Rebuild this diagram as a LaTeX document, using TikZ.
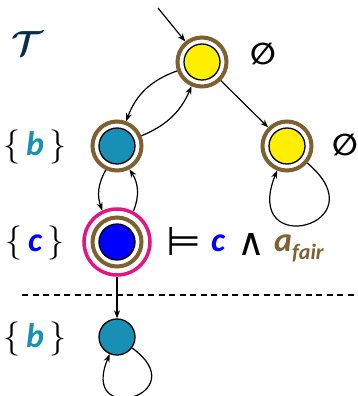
\documentclass[tikz,border=0pt]{standalone}
\usepackage{amsmath,amssymb}
\usepackage{fontspec}
\newfontfamily\carl{Carlito}
\newfontfamily\dejav{DejaVu Sans}
\usetikzlibrary{arrows.meta}
\definecolor{ringbrown}{RGB}{127,96,48}
\definecolor{yel}{RGB}{255,238,0}
\definecolor{tealb}{RGB}{24,143,181}
\definecolor{blu}{RGB}{0,0,255}
\definecolor{pinkr}{RGB}{230,20,130}
\definecolor{navy}{RGB}{10,45,75}
\newcommand\bigmath[2]{\scalebox{#1}{\fontsize{24.88}{28}\selectfont$#2$}}
\begin{document}
\begin{tikzpicture}[x=1pt,y=1pt,
  ring/.style={circle, draw=ringbrown, line width=4pt, minimum size=49pt, inner sep=0pt},
  pinkring/.style={circle, draw=pinkr, line width=3.5pt, minimum size=66pt, inner sep=0pt},
  core/.style={circle, draw=black, line width=1.3pt, minimum size=36pt, inner sep=0pt},
  arr/.style={-{Stealth[length=8pt,width=6pt]}, line width=1.2pt},
  lbl/.style={inner sep=0pt, font=\fontsize{34}{40}\selectfont\carl},
  sym/.style={inner sep=0pt, font=\fontsize{30}{36}\selectfont\dejav\bfseries}
]
\useasboundingbox (0,0) rectangle (358,-396);
% states
\node[ring] (t) at (202,-62) {};
\node[core, fill=yel] (tin) at (t) {};
\node[ring] (l) at (117,-146) {};
\node[core, fill=tealb] (lin) at (l) {};
\node[ring] (r) at (287,-146) {};
\node[core, fill=yel] (rin) at (r) {};
\node[pinkring] (c) at (117,-242) {};
\node[ring] (cring) at (c) {};
\node[core, fill=blu] (cin) at (c) {};
\node[core, fill=tealb] (d) at (117,-337) {};
% edges
\coordinate (init) at (158,-8);
\draw[arr] (init) -- (t);
\draw[arr] (t) to[bend right=25] (l);
\draw[arr] (l) to[bend right=22] (t);
\draw[arr] (t) -- (r);
\draw[arr] (r) to[out=-40,in=-112,looseness=8] (r);
\draw[arr] (l) to[bend right=25] (c);
\draw[arr] (c) to[bend right=28] (l);
\draw[arr] (c) -- (d);
\draw[arr] (d) to[out=-36,in=-113,looseness=8.8] (d);
% dashed separator
\coordinate (dl) at (22,-295);
\coordinate (dr) at (358,-295);
\draw[line width=1.2pt, dash pattern=on 6pt off 4.5pt] (dl) -- (dr);
% labels
\node[inner sep=0pt, text=navy] (T) at (27,-44) {\bigmath{1.4}{\boldsymbol{\mathcal{T}}}};
\node[sym] (e1) at (263,-54) {∅};
\node[sym] (e2) at (345,-145) {∅};
\node[lbl, anchor=base] (lb1) at (35,-155) {\bigmath{1.37}{\{}\,\textcolor{tealb}{\bfseries\itshape b}\,\bigmath{1.37}{\}}};
\node[lbl, anchor=base] (lc) at (35,-251) {\bigmath{1.37}{\{}\,\textcolor{blu}{\bfseries\itshape c}\,\bigmath{1.37}{\}}};
\node[lbl, anchor=base] (lb2) at (35,-347) {\bigmath{1.37}{\{}\,\textcolor{tealb}{\bfseries\itshape b}\,\bigmath{1.37}{\}}};
\node[sym, font=\fontsize{40}{44}\selectfont\dejav] (mod) at (184,-241.5) {⊨};
\node[lbl, anchor=base west] (fc) at (211,-251) {\textcolor{blu}{\bfseries\itshape c}};
\node[sym, font=\fontsize{38}{40}\selectfont\dejav] (wed) at (251,-244.5) {∧};
\node[lbl, anchor=base west] (fa) at (274,-251) {\textcolor{ringbrown}{\bfseries\itshape a\raisebox{-0.25em}{\fontsize{22}{24}\selectfont fair}}};
\end{tikzpicture}
\end{document}
